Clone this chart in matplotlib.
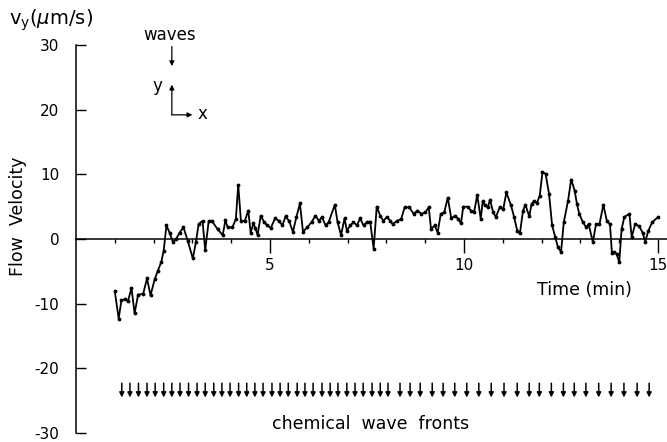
import numpy as np
import matplotlib
matplotlib.use("Agg")
import matplotlib.pyplot as plt

## flow velocity trace (time in min, v_y in um/s)
time_min = [1.00, 1.10, 1.17, 1.26, 1.34, 1.43, 1.51, 1.60, 1.73, 1.83,
            1.92, 2.03, 2.11, 2.20, 2.26, 2.33, 2.41, 2.50, 2.58, 2.67,
            2.77, 2.88, 3.01, 3.09, 3.16, 3.26, 3.33, 3.42, 3.50, 3.65,
            3.78, 3.85, 3.91, 4.03, 4.12, 4.18, 4.25, 4.35, 4.44, 4.50,
            4.57, 4.62, 4.68, 4.76, 4.85, 4.93, 5.02, 5.13, 5.23, 5.32,
            5.40, 5.49, 5.59, 5.68, 5.77, 5.85, 5.96, 6.07, 6.17, 6.26,
            6.34, 6.43, 6.51, 6.67, 6.74, 6.83, 6.92, 6.98, 7.07, 7.15,
            7.24, 7.32, 7.41, 7.50, 7.58, 7.67, 7.75, 7.84, 7.92, 8.01,
            8.10, 8.16, 8.27, 8.38, 8.47, 8.59, 8.70, 8.80, 8.90, 9.00,
            9.09, 9.15, 9.24, 9.32, 9.40, 9.49, 9.58, 9.67, 9.77, 9.85,
            9.92, 9.98, 10.09, 10.18, 10.26, 10.34, 10.43, 10.48, 10.54, 10.61,
            10.67, 10.75, 10.82, 10.92, 11.01, 11.09, 11.21, 11.29, 11.37, 11.44,
            11.52, 11.58, 11.68, 11.74, 11.80, 11.88, 11.95, 12.02, 12.10, 12.19,
            12.27, 12.35, 12.42, 12.50, 12.57, 12.68, 12.76, 12.85, 12.91, 12.97,
            13.06, 13.15, 13.21, 13.32, 13.40, 13.49, 13.59, 13.68, 13.76, 13.81,
            13.87, 13.93, 14.00, 14.06, 14.13, 14.26, 14.32, 14.41, 14.51, 14.60,
            14.67, 14.75, 14.85, 15.00]
vy = [-8.1, -12.3, -9.5, -9.3, -9.6, -7.6, -11.5, -8.6, -8.5, -6.1,
      -8.7, -6.2, -4.9, -3.5, -1.8, 2.1, 1.0, -0.5, 0.0, 1.0,
      1.8, -0.3, -3.0, -0.5, 2.3, 2.8, -1.7, 2.8, 2.8, 1.5,
      0.6, 2.9, 1.8, 1.8, 3.1, 8.4, 2.8, 2.8, 4.4, 1.0,
      2.4, 1.7, 0.6, 3.6, 2.6, 2.1, 1.7, 3.2, 2.8, 2.1,
      3.5, 2.8, 1.1, 3.4, 5.5, 1.1, 1.8, 2.6, 3.6, 2.8,
      3.4, 2.1, 2.6, 5.3, 2.6, 0.6, 3.2, 1.3, 2.1, 2.6,
      2.1, 3.2, 2.1, 2.6, 2.7, -1.5, 5.0, 3.6, 2.8, 3.4,
      2.8, 2.3, 2.8, 3.1, 4.9, 4.9, 3.9, 4.4, 3.9, 4.1,
      4.9, 1.5, 2.1, 1.0, 3.9, 4.1, 6.4, 3.2, 3.6, 3.1,
      2.4, 5.0, 5.0, 4.4, 4.2, 6.8, 3.1, 5.8, 5.2, 4.9,
      6.1, 4.1, 3.4, 4.9, 4.6, 7.2, 5.2, 3.4, 1.3, 0.9,
      4.4, 5.3, 3.5, 5.4, 5.9, 5.6, 6.7, 10.3, 10.1, 7.0,
      2.1, 0.3, -1.3, -2.0, 2.6, 5.9, 9.2, 7.5, 5.4, 3.9,
      2.6, 1.8, 2.3, -0.5, 2.3, 2.3, 5.3, 2.8, 2.3, -2.1,
      -2.0, -2.3, -3.6, 1.5, 3.4, 3.9, 0.3, 2.3, 2.0, 1.0,
      -0.4, 1.3, 2.6, 3.4]

## times of the chemical wave fronts (arrows at the bottom)
wave_fronts = [1.18, 1.39, 1.61, 1.83, 2.04, 2.26, 2.47, 2.68, 2.90, 3.12,
               3.33, 3.55, 3.76, 3.97, 4.19, 4.40, 4.61, 4.82, 5.05, 5.26,
               5.47, 5.70, 5.90, 6.11, 6.34, 6.55, 6.75, 6.98, 7.19, 7.40,
               7.63, 7.84, 8.04, 8.35, 8.61, 8.87, 9.18, 9.46, 9.76, 10.07,
               10.38, 10.70, 11.03, 11.37, 11.68, 11.94, 12.25, 12.56, 12.84, 13.14,
               13.47, 13.79, 14.12, 14.46, 14.77]

x_ticks = [5, 10, 15]
y_ticks = [30, 20, 10, 0, -10, -20, -30]
y_ticklabels = ["30", "20", "10", "0", "-10", "-20", "-30"]

plt.rcParams['font.family'] = ['DejaVu Sans']

fig = plt.figure(figsize=(6.67, 4.42), dpi=100)
ax = fig.add_axes([76/667., 9/442., 591/667., 388/442.])

ax.plot(time_min, vy, color="black", lw=1.3, marker=".", ms=3.5)

ax.set_xlim(0, 15.23)
ax.set_ylim(-30, 30)

## axis cosmetics: only left spine + x axis drawn through zero
ax.spines["top"].set_visible(False)
ax.spines["right"].set_visible(False)
ax.spines["bottom"].set_position(("data", 0))
ax.spines["bottom"].set_linewidth(1.1)
ax.spines["left"].set_linewidth(1.1)

ax.set_xticks(x_ticks)
ax.set_xticklabels([str(t) for t in x_ticks], fontsize=11)
ax.set_xticks(np.arange(1, 16), minor=True)
ax.tick_params(axis="x", which="major", direction="out", length=10, width=1, pad=4)
ax.tick_params(axis="x", which="minor", direction="out", length=3, width=1)

ax.set_yticks(y_ticks)
ax.set_yticklabels(y_ticklabels, fontsize=11)
ax.tick_params(axis="y", which="major", direction="in", length=7, width=1, pad=12)

fig.text(18/667., 1 - 216/442., "Flow  Velocity", rotation=90, ha="center", va="center", fontsize=12.5)
fig.text(9/667., 1 - 20/442., r"v$_\mathregular{y}$($\mu$m/s)", ha="left", va="center", fontsize=14)

ax.text(13.1, -7.9, "Time (min)", ha="center", va="center", fontsize=12.5)
ax.text(7.58, -28.6, "chemical  wave  fronts", ha="center", va="center", fontsize=12.5)

## inset with direction of the waves and coordinate system
ax.text(2.42, 31.6, "waves", ha="center", va="center", fontsize=12, clip_on=False)
ax.annotate("", xy=(2.47, 26.3), xytext=(2.47, 30.2),
            arrowprops=dict(arrowstyle="-|>", color="black", lw=0.9, mutation_scale=7), annotation_clip=False)
ax.annotate("", xy=(2.47, 24.3), xytext=(2.47, 19.2),
            arrowprops=dict(arrowstyle="-|>", color="black", lw=0.9, mutation_scale=7, shrinkA=0))
ax.annotate("", xy=(3.07, 19.2), xytext=(2.47, 19.2),
            arrowprops=dict(arrowstyle="-|>", color="black", lw=0.9, mutation_scale=7, shrinkA=0))
ax.text(2.09, 23.6, "y", ha="center", va="center", fontsize=12)
ax.text(3.27, 19.4, "x", ha="center", va="center", fontsize=12)

for t in wave_fronts:
    ax.annotate("", xy=(t, -24.5), xytext=(t, -22.3),
                arrowprops=dict(arrowstyle="-|>", color="black", lw=1.1, mutation_scale=7, shrinkA=0, shrinkB=0))

plt.savefig("out.png", dpi=100)
